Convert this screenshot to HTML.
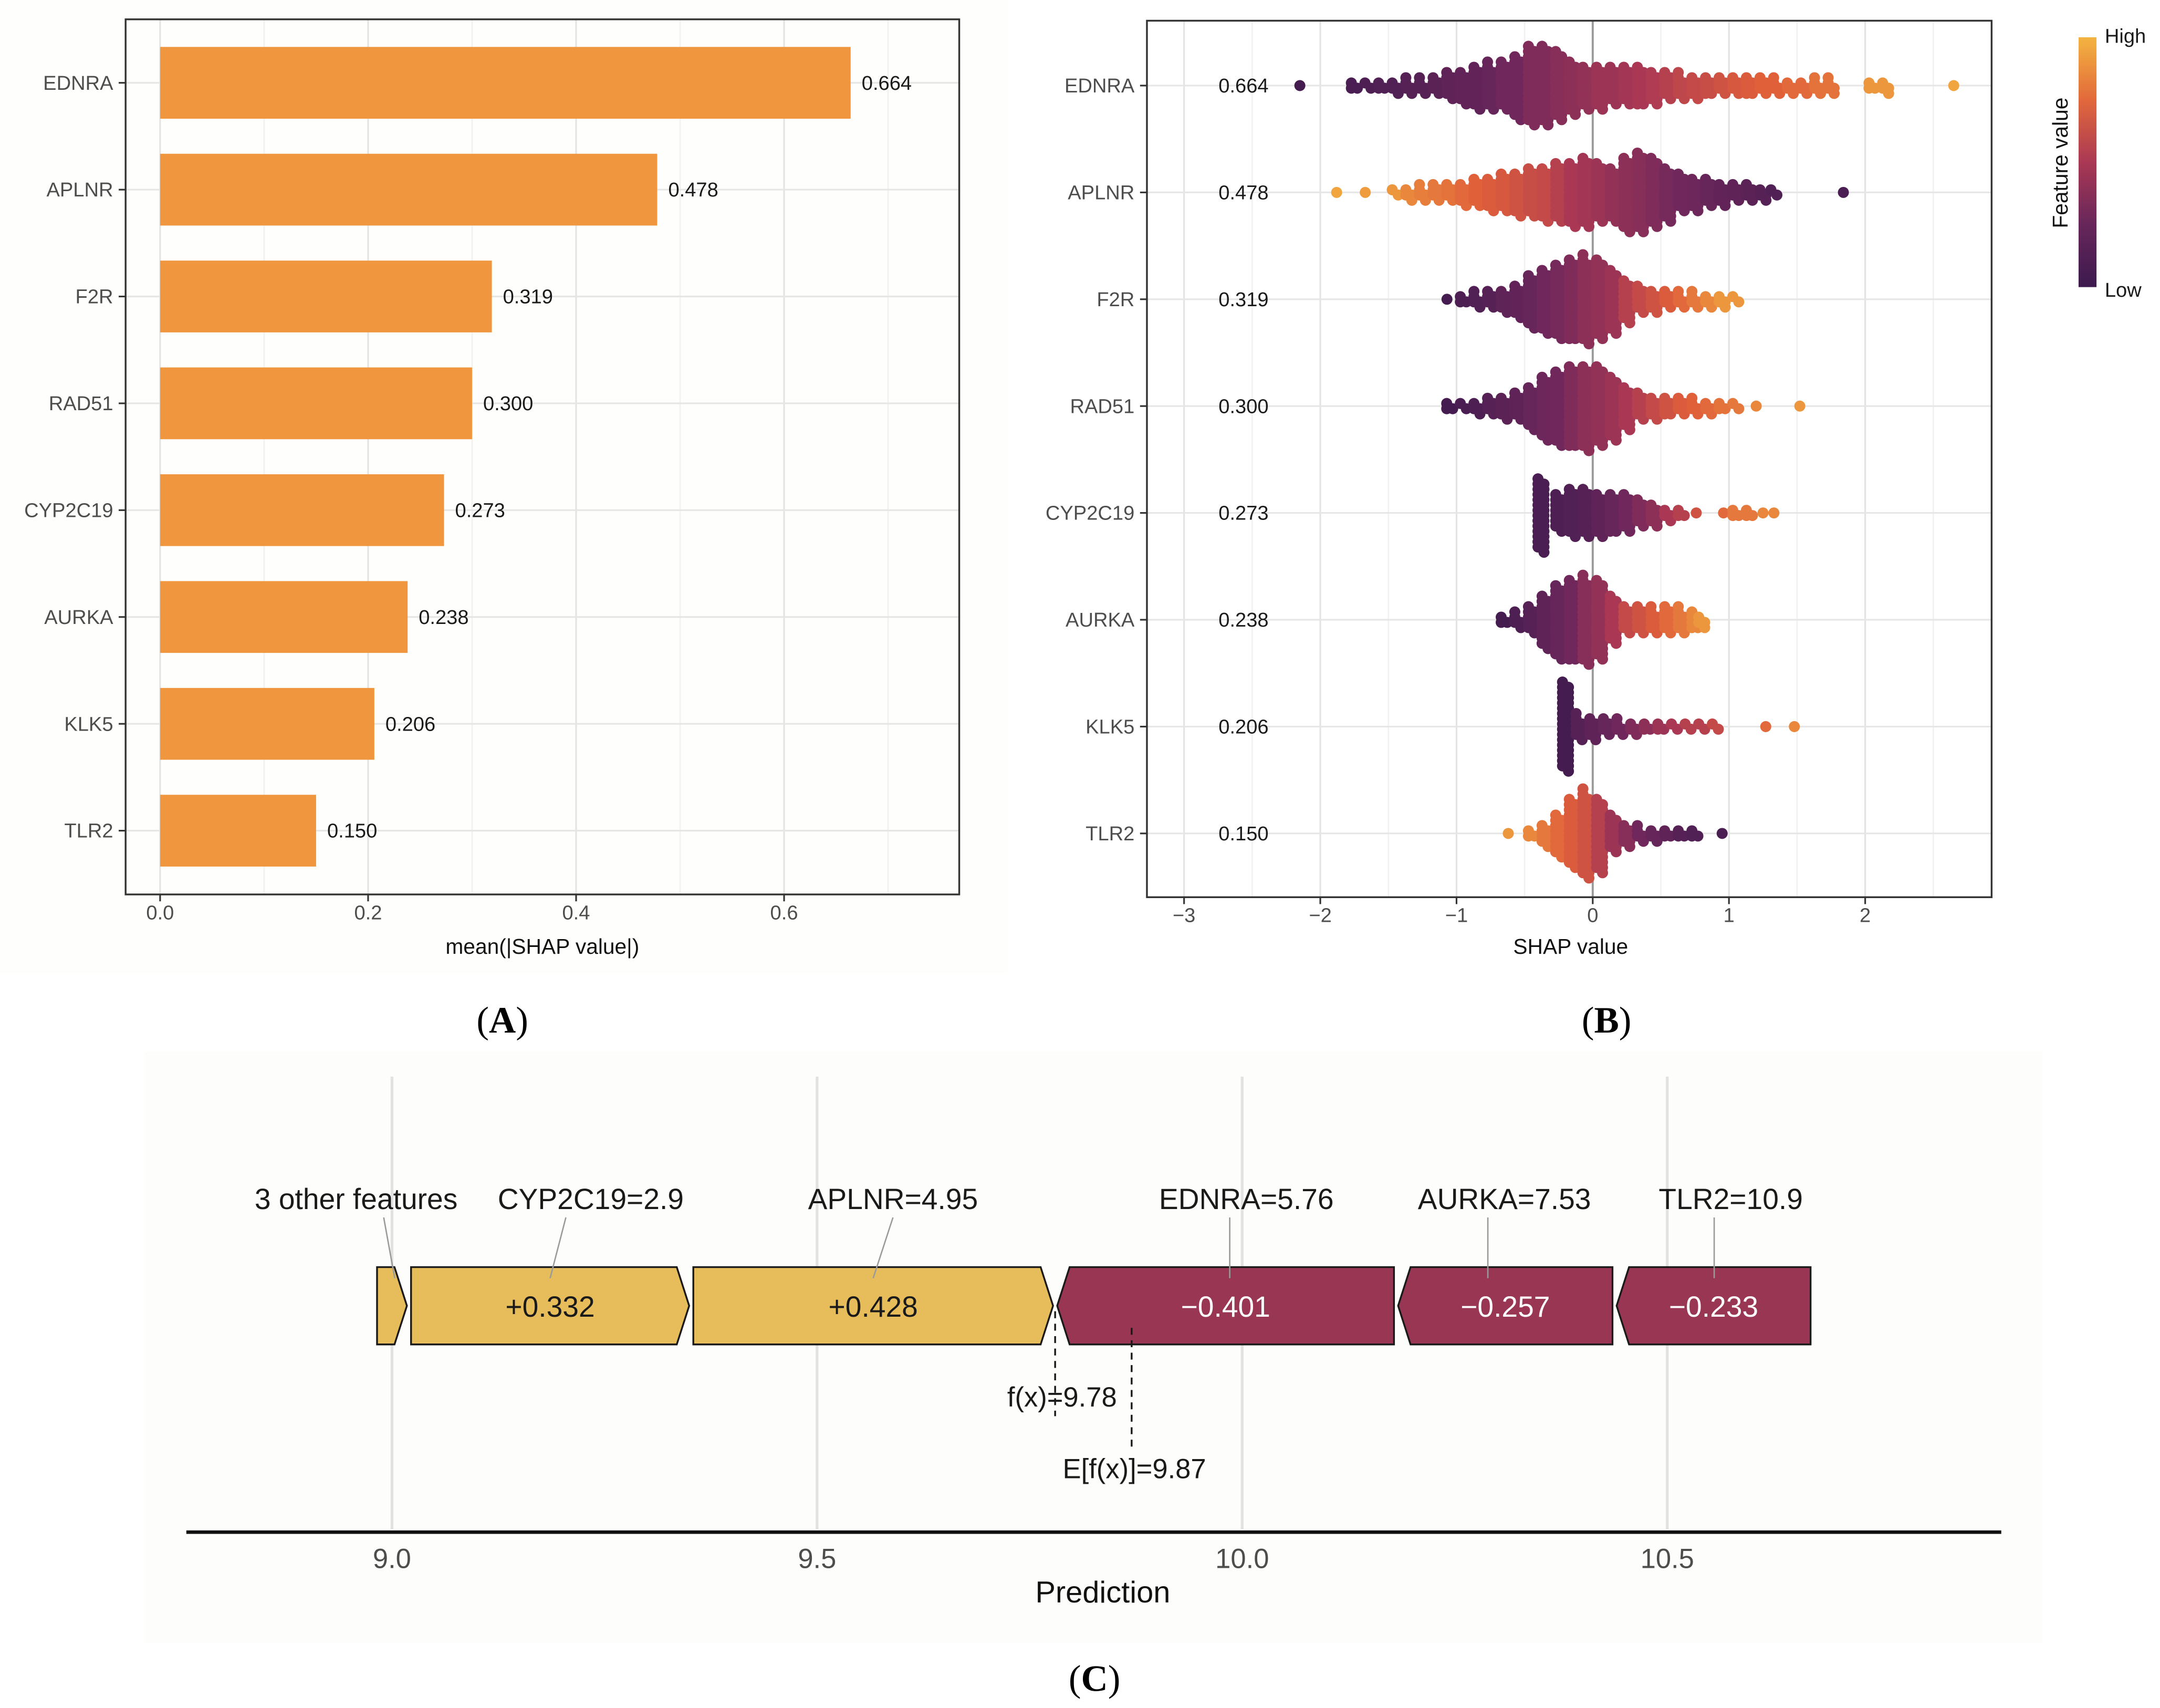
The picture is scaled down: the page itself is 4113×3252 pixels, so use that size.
<!DOCTYPE html>
<html><head><meta charset="utf-8"><style>
html,body{margin:0;padding:0;background:#fff;}
svg{display:block;font-family:"Liberation Sans",Arial,sans-serif;}
</style></head><body>
<svg id="fig" xmlns="http://www.w3.org/2000/svg" width="4113" height="3252" viewBox="0 0 1565 1237.4">
<rect x="0" y="0" width="1565" height="1237.4" fill="#ffffff"/>
<rect x="0" y="0" width="730" height="705" fill="#fefefd"/>
<rect x="105" y="762" width="1375" height="428" fill="#fdfdfb"/>
<g id="pa"></g>
<g id="pb"></g>
<g id="pc"></g>
<text x="364" y="748" text-anchor="middle" font-family="Liberation Serif,serif" font-size="27">(<tspan font-weight="bold">A</tspan>)</text>
<text x="1164" y="748" text-anchor="middle" font-family="Liberation Serif,serif" font-size="27">(<tspan font-weight="bold">B</tspan>)</text>
<text x="793" y="1225" text-anchor="middle" font-family="Liberation Serif,serif" font-size="27">(<tspan font-weight="bold">C</tspan>)</text>
</svg>
<script>
// ---------- data ----------
const features = ["EDNRA","APLNR","F2R","RAD51","CYP2C19","AURKA","KLK5","TLR2"];
const meanShap = [0.664,0.478,0.319,0.300,0.273,0.238,0.206,0.150];
const meanLabels = ["0.664","0.478","0.319","0.300","0.273","0.238","0.206","0.150"];
const ticksA = [0,0.2,0.4,0.6];
const tickLabelsA = ["0.0","0.2","0.4","0.6"];
const ticksB = [-3,-2,-1,0,1,2];
const tickLabelsB = ["\u22123","\u22122","\u22121","0","1","2"];

const ednraX = [-2.15,-1.75,-1.65,-1.55,-1.45,-1.35,-1.25,-1.15,-1.05,-0.95,-0.85,-0.75,-0.65,-0.55,-0.45,-0.35,-0.25,-0.15,-0.05,0.05,0.15,0.25,0.35,0.45,0.55,0.65,0.75,0.85,0.95,1.05,1.15,1.25,1.35,1.45,1.55,1.65,1.75,2.05,2.15,2.65];
const ednraN = [1,3,2,3,4,5,5,6,10,12,16,17,18,24,30,30,26,20,16,16,14,14,15,12,10,9,8,7,6,6,7,6,5,4,4,5,5,3,4,1];
const ednraC = [.05,.08,.1,.12,.12,.15,.15,.18,.2,.22,.22,.25,.3,.3,.35,.35,.38,.4,.42,.45,.45,.48,.5,.52,.55,.58,.6,.62,.65,.68,.7,.72,.72,.75,.75,.78,.78,.9,.9,.95];

const aplnrX = [-1.88,-1.67,-1.45,-1.35,-1.25,-1.15,-1.05,-0.95,-0.85,-0.75,-0.65,-0.55,-0.45,-0.35,-0.25,-0.15,-0.05,0.05,0.15,0.25,0.35,0.45,0.55,0.65,0.75,0.85,0.95,1.05,1.15,1.25,1.33,1.84];
const aplnrN = [1,1,2,4,5,6,6,8,10,12,14,16,18,20,22,24,26,22,20,28,30,26,20,14,12,10,8,6,6,4,2,1];
const aplnrC = [.95,.92,.9,.85,.82,.8,.78,.75,.72,.7,.68,.65,.62,.6,.55,.5,.48,.45,.42,.4,.38,.35,.32,.3,.28,.25,.22,.2,.18,.15,.12,.08];

const f2rX = [-1.07,-0.95,-0.85,-0.75,-0.65,-0.55,-0.45,-0.35,-0.25,-0.15,-0.05,0.05,0.15,0.25,0.35,0.45,0.55,0.65,0.75,0.85,0.95,1.05];
const f2rN = [1,3,5,6,8,12,20,24,28,31,33,30,24,16,10,8,6,5,5,4,4,2];
const f2rC = [.05,.1,.12,.15,.2,.22,.25,.3,.32,.35,.4,.42,.45,.55,.6,.65,.7,.75,.8,.85,.9,.9];

const rad51X = [-1.05,-0.95,-0.85,-0.75,-0.65,-0.55,-0.45,-0.35,-0.25,-0.15,-0.05,0.05,0.15,0.25,0.35,0.45,0.55,0.65,0.75,0.85,0.95,1.05,1.2,1.52];
const rad51N = [3,2,4,6,8,10,16,24,28,31,32,30,24,16,10,8,7,6,5,4,3,2,1,1];
const rad51C = [.05,.08,.1,.15,.18,.2,.25,.28,.3,.35,.4,.42,.45,.5,.55,.6,.65,.7,.72,.75,.78,.8,.85,.9];

const cypX = [-0.38,-0.25,-0.15,-0.05,0.05,0.15,0.25,0.35,0.45,0.55,0.65,0.76,0.96,1.05,1.15,1.25,1.33];
const cypN = [28,14,18,18,16,15,14,10,8,4,3,1,1,3,3,1,1];
const cypC = [.08,.1,.12,.15,.2,.25,.3,.35,.4,.5,.55,.65,.75,.8,.8,.85,.85];

const aurkaX = [-0.65,-0.55,-0.45,-0.35,-0.25,-0.15,-0.05,0.05,0.15,0.25,0.35,0.45,0.55,0.65,0.75,0.8];
const aurkaN = [3,5,10,20,28,31,33,30,18,10,10,9,10,9,7,4];
const aurkaC = [.05,.1,.15,.2,.25,.3,.38,.42,.5,.6,.65,.7,.75,.8,.85,.9];

const klk5X = [-0.2,-0.1,0,0.1,0.2,0.3,0.4,0.5,0.6,0.7,0.8,0.9,1.27,1.48];
const klk5N = [34,9,8,6,5,4,3,3,2,2,2,2,1,1];
const klk5C = [.05,.15,.2,.25,.3,.35,.4,.45,.5,.55,.55,.6,.75,.85];

const tlr2X = [-0.62,-0.45,-0.35,-0.25,-0.15,-0.05,0.05,0.15,0.25,0.35,0.45,0.55,0.65,0.75,0.95];
const tlr2N = [1,3,8,16,26,33,28,14,8,5,4,3,3,3,1];
const tlr2C = [.9,.85,.8,.75,.7,.65,.55,.45,.38,.3,.25,.2,.15,.12,.08];

const swarmX = [ednraX,aplnrX,f2rX,rad51X,cypX,aurkaX,klk5X,tlr2X];
const swarmN = [ednraN,aplnrN,f2rN,rad51N,cypN,aurkaN,klk5N,tlr2N];
const swarmC = [ednraC,aplnrC,f2rC,rad51C,cypC,aurkaC,klk5C,tlr2C];

// force plot data
const forceFx = 9.78;
const forceBase = 9.87;
const posNames = ["APLNR=4.95","CYP2C19=2.9","3 other features"];
const posValues = [0.428,0.332,0.040];
const posLabels = ["+0.428","+0.332",""];
const negNames = ["EDNRA=5.76","AURKA=7.53","TLR2=10.9"];
const negValues = [0.401,0.257,0.233];
const negLabels = ["\u22120.401","\u22120.257","\u22120.233"];
const ticksC = [9.0,9.5,10.0,10.5];
const tickLabelsC = ["9.0","9.5","10.0","10.5"];

// ---------- helpers ----------
const NS = "http://www.w3.org/2000/svg";
function mk(parent, tag, attrs, txt){
  const e = document.createElementNS(NS, tag);
  for (const k in attrs) e.setAttribute(k, attrs[k]);
  if (txt !== undefined) e.textContent = txt;
  parent.appendChild(e);
  return e;
}
function lerp(a,b,t){return a+(b-a)*t;}
const stops = [[0,[60,26,78]],[0.3,[112,40,92]],[0.5,[170,56,84]],[0.72,[224,96,58]],[1,[243,180,64]]];
function colorOf(t){
  for (let i=1;i<stops.length;i++){
    if (t<=stops[i][0]){
      const a=stops[i-1], b=stops[i]; const u=(t-a[0])/(b[0]-a[0]);
      return "rgb("+[0,1,2].map(j=>Math.round(lerp(a[1][j],b[1][j],u))).join(",")+")";
    }
  }
  return "rgb(243,180,64)";
}
const rowY = i => 60 + i*77.4;

// ---------- Panel A ----------
(function(){
  const g = document.getElementById("pa");
  const L=91,R=695,T=14,B=648;
  const xA = v => 116 + v*753.5;
  for (let v=0.1; v<0.75; v+=0.2){
    const l = mk(g,"line",{x1:xA(v),x2:xA(v),y1:T,y2:B,stroke:"#f1f1f1","stroke-width":1});
    
    
  }
  ticksA.forEach(v=>{
    const l = mk(g,"line",{x1:xA(v),x2:xA(v),y1:T,y2:B,stroke:"#e3e3e3","stroke-width":1.2});
    
    
  });
  features.forEach((f,i)=>{
    const y=rowY(i);
    const l = mk(g,"line",{x1:L,x2:R,y1:y,y2:y,stroke:"#e6e6e6","stroke-width":1.2});
    
    
  });
  features.forEach((f,i)=>{
    const y=rowY(i);
    const bar = mk(g,"rect",{x:xA(0),y:y-26,width:xA(meanShap[i])-xA(0),height:52,fill:"#f0963e"});
    
    
    const t = mk(g,"text",{x:xA(meanShap[i])+8,y:y+5,"font-size":14.5,fill:"#1a1a1a"},meanLabels[i]);
    
    
    const yl = mk(g,"text",{x:82,y:y+5,"font-size":14.5,fill:"#4d4d4d","text-anchor":"end"},f);
    
    
    const tk = mk(g,"line",{x1:86,x2:L,y1:y,y2:y,stroke:"#333","stroke-width":1.2});
    
    
  });
  const fr = mk(g,"rect",{x:L,y:T,width:R-L,height:B-T,fill:"none",stroke:"#333","stroke-width":1.3});
  
  
  ticksA.forEach((v,i)=>{
    const tk = mk(g,"line",{x1:xA(v),x2:xA(v),y1:B,y2:B+5,stroke:"#333","stroke-width":1.2});
    
    
    const t = mk(g,"text",{x:xA(v),y:666,"font-size":14.5,fill:"#4d4d4d","text-anchor":"middle"},tickLabelsA[i]);
    
    
  });
  const xt = mk(g,"text",{x:393,y:691,"font-size":15.5,fill:"#111","text-anchor":"middle"},"mean(|SHAP value|)");
  
  
})();

// ---------- Panel B ----------
(function(){
  const g = document.getElementById("pb");
  const L=831,R=1443,T=15,B=650;
  const xB = v => 1154 + v*98.7;
  const yB = i => 62 + i*77.4;
  for (let v=-2.5; v<2.9; v+=1){
    const l = mk(g,"line",{x1:xB(v),x2:xB(v),y1:T,y2:B,stroke:"#f1f1f1","stroke-width":1});
    
    
  }
  ticksB.forEach(v=>{
    const l = mk(g,"line",{x1:xB(v),x2:xB(v),y1:T,y2:B,stroke:"#e3e3e3","stroke-width":1.2});
    
    
  });
  features.forEach((f,i)=>{
    const y=yB(i);
    const l = mk(g,"line",{x1:L,x2:R,y1:y,y2:y,stroke:"#e6e6e6","stroke-width":1.2});
    
    
  });
  const z = mk(g,"line",{x1:xB(0),x2:xB(0),y1:T,y2:B,stroke:"#9a9a9a","stroke-width":1.5});
  
  
  features.forEach((f,i)=>{
    const y=yB(i);
    const grp = mk(g,"g",{});
    
    
    const X=swarmX[i], N=swarmN[i], C=swarmC[i];
    X.forEach((xv,k)=>{
      const n=N[k];
      for (let j=0;j<n;j++){
        const col = j%2, m=Math.floor(j/2);
        const off = (m===0?0:(m%2===1?1:-1)*Math.ceil(m/2))*3.8 + (col?1.9:-1.9)*(n>1?1:0);
        const dx = n>1 ? (col?0.022:-0.022) : 0;
        const c = mk(grp,"circle",{cx:xB(xv+dx),cy:y+off,r:4,fill:colorOf(C[k])});
        
        
      }
    });
    const yl = mk(g,"text",{x:822,y:y+5,"font-size":14.5,fill:"#4d4d4d","text-anchor":"end"},f);
    
    
    const tk = mk(g,"line",{x1:826,x2:L,y1:y,y2:y,stroke:"#333","stroke-width":1.2});
    
    
    const mv = mk(g,"text",{x:901,y:y+5,"font-size":14.5,fill:"#1a1a1a","text-anchor":"middle"},meanLabels[i]);
    
    
  });
  const fr = mk(g,"rect",{x:L,y:T,width:R-L,height:B-T,fill:"none",stroke:"#333","stroke-width":1.3});
  
  
  ticksB.forEach((v,i)=>{
    const tk = mk(g,"line",{x1:xB(v),x2:xB(v),y1:B,y2:B+5,stroke:"#333","stroke-width":1.2});
    
    
    const t = mk(g,"text",{x:xB(v),y:668,"font-size":14.5,fill:"#4d4d4d","text-anchor":"middle"},tickLabelsB[i]);
    
    
  });
  const xt = mk(g,"text",{x:1138,y:691,"font-size":15.5,fill:"#111","text-anchor":"middle"},"SHAP value");
  
  
  // colorbar
  const defs = mk(g,"defs",{});
  const lg = mk(defs,"linearGradient",{id:"cbg",x1:0,y1:1,x2:0,y2:0});
  [0,0.25,0.5,0.75,1].forEach(t=>mk(lg,"stop",{offset:t,"stop-color":colorOf(t)}));
  const cb = mk(g,"rect",{x:1506,y:27,width:13,height:181,fill:"url(#cbg)"});
  
  
  const hi = mk(g,"text",{x:1525,y:31,"font-size":14.5,fill:"#1a1a1a"},"High");
  
  
  const lo = mk(g,"text",{x:1525,y:215,"font-size":14.5,fill:"#1a1a1a"},"Low");
  
  
  const ct = mk(g,"text",{x:1498,y:118,"font-size":15.5,fill:"#111","text-anchor":"middle",transform:"rotate(-90 1498 118)"},"Feature value");
  
  
})();

// ---------- Panel C ----------
(function(){
  const g = document.getElementById("pc");
  const xC = v => 284 + (v-9)*616;
  const top=918, bot=974, mid=946, d=9;
  ticksC.forEach(v=>{
    const l = mk(g,"line",{x1:xC(v),x2:xC(v),y1:780,y2:1108,stroke:"#e2e2e2","stroke-width":2});
    
    
  });
  const labelX = [647,428,258];
  const negLabelX = [903,1090,1254];
  let cur = forceFx;
  posValues.forEach((v,i)=>{
    const a = xC(cur - v), b = xC(cur);
    const x0=a+1.5, x1=b-1.5;
    const last = (i===posValues.length-1);
    const pts = [[x0,top],[x1-d,top],[x1,mid],[x1-d,bot],[x0,bot]];
    const p = mk(g,"polygon",{points:pts.map(q=>q.join(",")).join(" "),fill:"#e6bd5a",stroke:"#1a1a1a","stroke-width":1.3});
    
    
    if (posLabels[i]){
      const t = mk(g,"text",{x:(a+b)/2,y:mid+8,"font-size":21,fill:"#1a1a1a","text-anchor":"middle"},posLabels[i]);
      
      
    }
    const cx = last ? (a+b)/2+2 : (a+b)/2;
    const cl = mk(g,"line",{x1:labelX[i]+(last?20:-18)*(i===0?0:1),y1:882,x2:cx,y2:926,stroke:"#9a9a9a","stroke-width":1});
    
    
    const nt = mk(g,"text",{x:labelX[i],y:876,"font-size":21,fill:"#1a1a1a","text-anchor":"middle"},posNames[i]);
    
    
    cur -= v;
  });
  cur = forceFx;
  negValues.forEach((v,i)=>{
    const a = xC(cur), b = xC(cur+v);
    const x0=a+1.5, x1=b-1.5;
    const pts = [[x0,mid],[x0+d,top],[x1,top],[x1,bot],[x0+d,bot]];
    const p = mk(g,"polygon",{points:pts.map(q=>q.join(",")).join(" "),fill:"#993654",stroke:"#1a1a1a","stroke-width":1.3});
    
    
    const t = mk(g,"text",{x:(a+b)/2,y:mid+8,"font-size":21,fill:"#ffffff","text-anchor":"middle"},negLabels[i]);
    
    
    const cx = negLabelX[i]-12;
    const cl = mk(g,"line",{x1:cx,y1:882,x2:cx,y2:926,stroke:"#9a9a9a","stroke-width":1});
    
    
    const nt = mk(g,"text",{x:negLabelX[i],y:876,"font-size":21,fill:"#1a1a1a","text-anchor":"middle"},negNames[i]);
    
    
    cur += v;
  });
  const fl = mk(g,"line",{x1:xC(forceFx),x2:xC(forceFx),y1:950,y2:1026,stroke:"#1a1a1a","stroke-width":1.3,"stroke-dasharray":"5,4"});
  
  
  const ft = mk(g,"text",{x:xC(forceFx)+5,y:1019,"font-size":20,fill:"#1a1a1a","text-anchor":"middle"},"f(x)=9.78");
  
  
  const el = mk(g,"line",{x1:xC(forceBase),x2:xC(forceBase),y1:962,y2:1050,stroke:"#1a1a1a","stroke-width":1.3,"stroke-dasharray":"5,4"});
  
  
  const et = mk(g,"text",{x:xC(forceBase)+2,y:1071,"font-size":20,fill:"#1a1a1a","text-anchor":"middle"},"E[f(x)]=9.87");
  
  
  const ax = mk(g,"line",{x1:135,x2:1450,y1:1110,y2:1110,stroke:"#111","stroke-width":2.5});
  
  
  ticksC.forEach((v,i)=>{
    const t = mk(g,"text",{x:xC(v),y:1136,"font-size":20,fill:"#4d4d4d","text-anchor":"middle"},tickLabelsC[i]);
    
    
  });
  const xt = mk(g,"text",{x:799,y:1161,"font-size":22,fill:"#111","text-anchor":"middle"},"Prediction");
  
  
})();
</script>
</body></html>
